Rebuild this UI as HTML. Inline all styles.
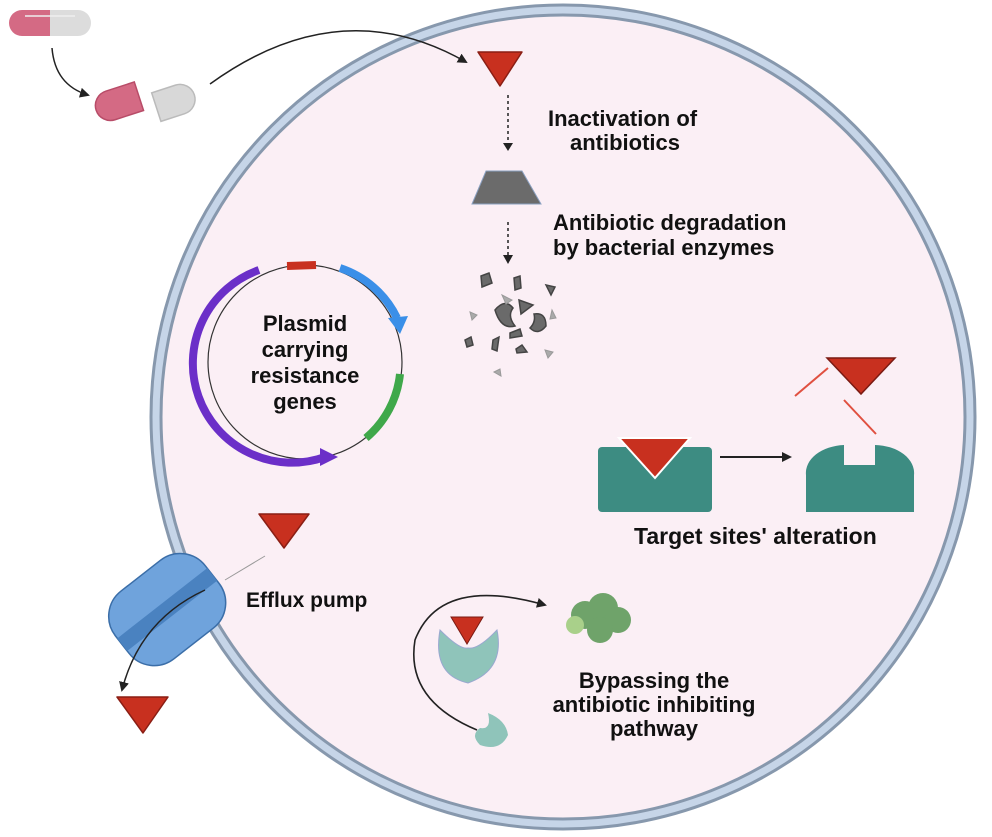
<!DOCTYPE html>
<html><head><meta charset="utf-8"><style>
html,body{margin:0;padding:0;background:#fff;width:992px;height:837px;overflow:hidden}
text{font-family:"Liberation Sans",sans-serif;font-weight:bold;fill:#111}
</style></head><body>
<svg width="992" height="837" viewBox="0 0 992 837" xmlns="http://www.w3.org/2000/svg">
<defs>
<marker id="ah" markerWidth="10" markerHeight="10" refX="8" refY="5" orient="auto" markerUnits="userSpaceOnUse"><path d="M0,0 L10,5 L0,10 Z" fill="#222"/></marker>
</defs>
<circle cx="563" cy="417" r="407" fill="#fbeff5" stroke="#8798ad" stroke-width="13"/>
<circle cx="563" cy="417" r="407" fill="none" stroke="#c6d5e8" stroke-width="7"/>

<g>
<path d="M22,10 H50 V36 H22 A13,13 0 0 1 22,10 Z" fill="#d46a84"/>
<path d="M50,10 H78 A13,13 0 0 1 78,36 H50 Z" fill="#dcdcdc"/>
<line x1="25" y1="16" x2="75" y2="16" stroke="#eee" stroke-width="1.5"/>
<g transform="rotate(-18 118 103)"><path d="M140,88 V118 H110 A15,15 0 0 1 110,88 Z" fill="#d46a84" stroke="#b84c68" stroke-width="1.5"/></g>
<g transform="rotate(-18 175 100)"><path d="M155,86 H180 A15,15 0 0 1 180,116 H155 Z" fill="#d8d8d8" stroke="#bbb" stroke-width="1.5"/></g>
</g>
<path d="M52,48 Q55,85 88,95" fill="none" stroke="#222" stroke-width="1.5" marker-end="url(#ah)"/>
<path d="M210,84 Q340,-10 466,62" fill="none" stroke="#222" stroke-width="1.5" marker-end="url(#ah)"/>

<path d="M478,52 H522 L500,86 Z" fill="#c8301f" stroke="#8a1e14" stroke-width="1.5" stroke-linejoin="round"/>
<line x1="508" y1="95" x2="508" y2="146" stroke="#222" stroke-width="1.5" stroke-dasharray="3,3"/>
<path d="M503,143 L513,143 L508,151 Z" fill="#222"/>
<text x="548" y="126" font-size="22">Inactivation of</text>
<text x="570" y="150" font-size="22">antibiotics</text>
<path d="M486,171 H522 L541,204 H472 Z" fill="#6b6b6b" stroke="#8aa0c0"/>
<line x1="508" y1="222" x2="508" y2="258" stroke="#222" stroke-width="1.5" stroke-dasharray="3,3"/>
<path d="M503,255 L513,255 L508,264 Z" fill="#222"/>
<text x="553" y="230" font-size="22">Antibiotic degradation</text>
<text x="553" y="255" font-size="22">by bacterial enzymes</text>
<g fill="#6a6a6a" stroke="#444" stroke-width="1.5">
<path d="M481,276 l8,-3 3,10 -10,4 Z"/><path d="M514,278 l6,-2 1,12 -6,2 Z"/><path d="M546,285 l9,2 -4,8 Z"/>
<path d="M495,310 q10,-12 18,-2 q-6,8 2,18 q-14,4 -20,-16 Z"/><path d="M519,300 l14,5 -12,9 Z"/>
<path d="M534,314 q12,-2 12,12 q-8,10 -16,2 q6,-6 4,-14 Z"/><path d="M510,333 l10,-4 2,7 -12,2 Z"/>
<path d="M465,340 l6,-3 2,8 -6,2 Z"/><path d="M493,340 l6,-3 -2,14 -5,-2 Z"/><path d="M516,349 l6,-4 5,7 -10,1 Z"/>
</g>
<g fill="#aaa" stroke="#999"><path d="M470,312 l7,3 -5,5 Z"/><path d="M502,295 l10,5 -6,4 Z"/><path d="M552,310 l4,8 -6,1 Z"/><path d="M545,350 l8,2 -5,6 Z"/><path d="M494,372 l6,-3 1,7 Z"/></g>

<circle cx="305" cy="362" r="97" fill="none" stroke="#333" stroke-width="1.2"/>
<path d="M287,266 L316,265" stroke="#c8301f" stroke-width="8" fill="none"/>
<path d="M259,270 A97,97 0 0 0 325,457" stroke="#6b2fc8" stroke-width="8" fill="none"/>
<path d="M320,448 L338,457 L320,466 Z" fill="#6b2fc8"/>
<path d="M340,268 A97,97 0 0 1 397,318" stroke="#3a8fe8" stroke-width="8" fill="none"/>
<path d="M388,318 L408,316 L400,334 Z" fill="#3a8fe8"/>
<path d="M400,374 A97,97 0 0 1 366,438" stroke="#3fa84a" stroke-width="8" fill="none"/>
<text x="305" y="331" font-size="22" text-anchor="middle">Plasmid</text>
<text x="305" y="357" font-size="22" text-anchor="middle">carrying</text>
<text x="305" y="383" font-size="22" text-anchor="middle">resistance</text>
<text x="305" y="409" font-size="22" text-anchor="middle">genes</text>

<rect x="598" y="447" width="114" height="65" rx="4" fill="#3d8c82"/>
<path d="M619,438 H690 L655,478 Z" fill="#c8301f" stroke="#fff" stroke-width="2"/>
<line x1="720" y1="457" x2="790" y2="457" stroke="#222" stroke-width="2" marker-end="url(#ah)"/>
<path d="M806,512 V475 A40,28 0 0 1 844,445 V465 H875 V445 A40,28 0 0 1 914,475 V512 Z" fill="#3d8c82"/>
<path d="M827,358 H895 L861,394 Z" fill="#c8301f" stroke="#7a1a12" stroke-width="1.5"/>
<line x1="795" y1="396" x2="828" y2="368" stroke="#e05040" stroke-width="2"/>
<line x1="844" y1="400" x2="876" y2="434" stroke="#e05040" stroke-width="2"/>
<text x="634" y="544" font-size="23">Target sites' alteration</text>

<path d="M259,514 H309 L284,548 Z" fill="#c8301f" stroke="#8a1e14" stroke-width="1.5" stroke-linejoin="round"/>
<line x1="265" y1="556" x2="225" y2="580" stroke="#999" stroke-width="1"/>
<g transform="rotate(-38 165 610)">
<rect x="110" y="568" width="114" height="86" rx="32" fill="#6fa3dc" stroke="#3b6ea8" stroke-width="1.5"/>
<rect x="110" y="603" width="114" height="16" fill="#4a82c0"/>
</g>
<path d="M205,590 Q140,620 122,690" fill="none" stroke="#222" stroke-width="1.5" marker-end="url(#ah)"/>
<path d="M117,697 H168 L143,733 Z" fill="#c8301f" stroke="#8a1e14" stroke-width="1.5" stroke-linejoin="round"/>
<text x="246" y="607" font-size="21">Efflux pump</text>

<path d="M477,730 Q405,700 415,640 Q440,575 545,605" fill="none" stroke="#222" stroke-width="1.6" marker-end="url(#ah)"/>
<path d="M440,630 Q460,650 468,648 Q478,650 497,630 Q505,670 468,683 Q432,675 440,630 Z" fill="#8fc4ba" stroke="#9aa8d0"/>
<path d="M451,617 H483 L467,644 Z" fill="#c8301f" stroke="#7a1a12"/>
<path d="M488,713 Q506,720 508,735 Q500,752 480,745 Q470,735 480,728 Q492,730 488,713 Z" fill="#8fc4ba"/>
<g fill="#6fa36a"><circle cx="585" cy="615" r="14"/><circle cx="603" cy="608" r="15"/><circle cx="618" cy="620" r="13"/><circle cx="600" cy="630" r="13"/><circle cx="575" cy="625" r="9" fill="#a9d08a"/></g>
<text x="654" y="688" font-size="22" text-anchor="middle">Bypassing the</text>
<text x="654" y="712" font-size="22" text-anchor="middle">antibiotic inhibiting</text>
<text x="654" y="736" font-size="22" text-anchor="middle">pathway</text>
</svg>
</body></html>
